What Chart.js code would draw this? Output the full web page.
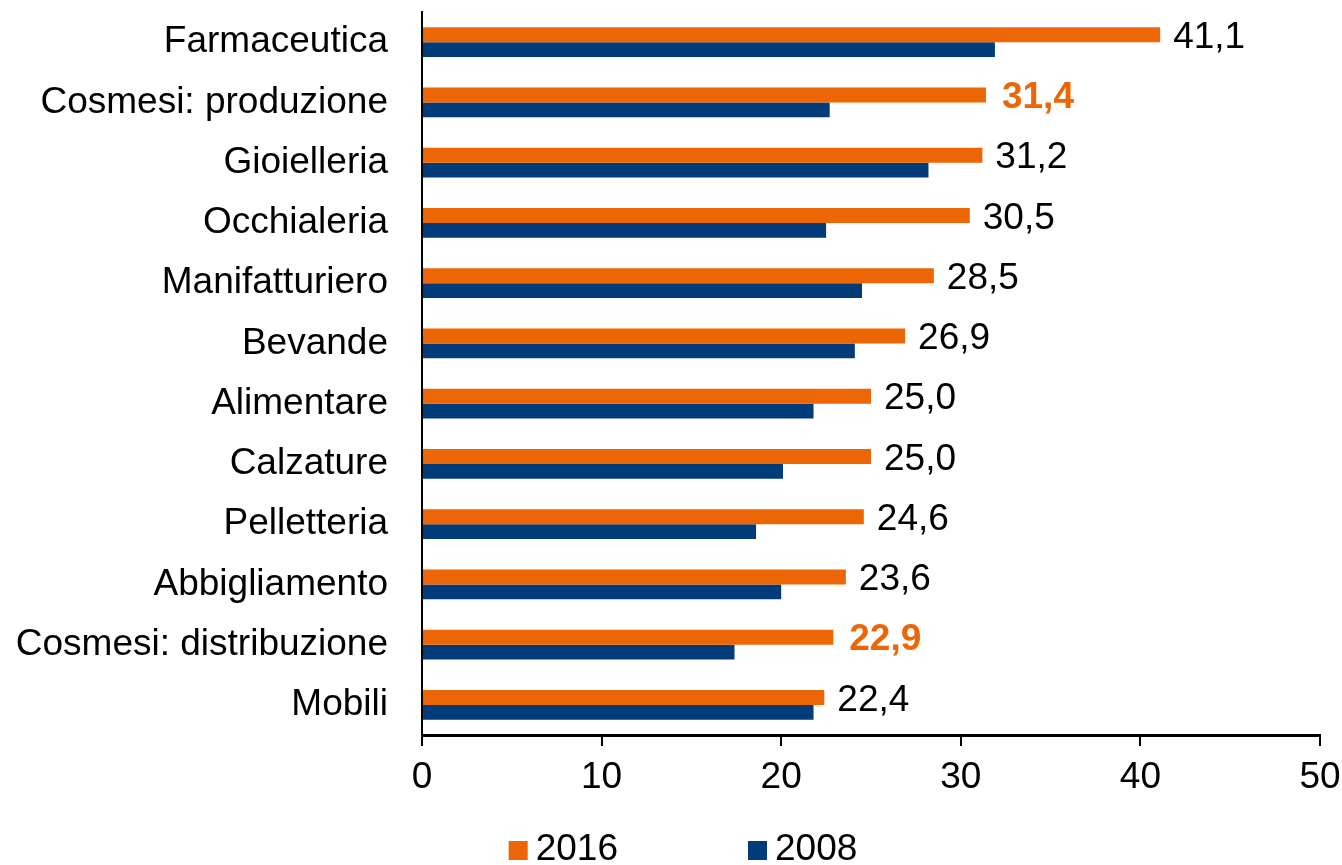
<!DOCTYPE html>
<html>
<head>
<meta charset="utf-8">
<script src="https://cdn.jsdelivr.net/npm/chart.js@4/dist/chart.umd.min.js"></script>
<style>
  body { margin: 0; background: #fff; }
  #wrap { width: 1342px; height: 865px; }
</style>
</head>
<body>
<div id="wrap"><canvas id="graph" width="1342" height="865"></canvas></div>
<script>
const categories = [
  'Farmaceutica', 'Cosmesi: produzione', 'Gioielleria', 'Occhialeria',
  'Manifatturiero', 'Bevande', 'Alimentare', 'Calzature', 'Pelletteria',
  'Abbigliamento', 'Cosmesi: distribuzione', 'Mobili'
];
const values2016 = [41.1, 31.4, 31.2, 30.5, 28.5, 26.9, 25.0, 25.0, 24.6, 23.6, 22.9, 22.4];
const values2008 = [31.9, 22.7, 28.2, 22.5, 24.5, 24.1, 21.8, 20.1, 18.6, 20.0, 17.4, 21.8];
const seriesNames = ['2016', '2008'];
const highlighted = ['Cosmesi: produzione', 'Cosmesi: distribuzione'];
const xTicks = [0, 10, 20, 30, 40, 50];

const ORANGE = '#ED6605';
const BLUE = '#013B7A';
const FONT = '"Liberation Sans", Arial, sans-serif';

Chart.defaults.font.family = FONT;
Chart.defaults.color = '#000';

// etichette valori 2016 a destra delle barre arancioni
const valueLabels = {
  id: 'valueLabels',
  afterDatasetsDraw(chart) {
    const ctx = chart.ctx;
    const meta = chart.getDatasetMeta(0);
    ctx.save();
    ctx.textBaseline = 'middle';
    ctx.textAlign = 'left';
    meta.data.forEach((bar, i) => {
      const hi = highlighted.includes(categories[i]);
      ctx.font = (hi ? 'bold ' : '') + '37px ' + FONT;
      ctx.fillStyle = hi ? ORANGE : '#000';
      const txt = values2016[i].toFixed(1).replace('.', ',');
      ctx.fillText(txt, bar.x + (hi ? 16 : 13), bar.y + 3);
    });
    ctx.restore();
  }
};

// legenda in basso
const bottomLegend = {
  id: 'bottomLegend',
  afterDraw(chart) {
    const ctx = chart.ctx;
    ctx.save();
    ctx.font = '37px ' + FONT;
    ctx.textBaseline = 'alphabetic';
    const box = 19, gap = 8, spacing = 130;
    const items = chart.data.datasets.map(d => ({ label: d.label, color: d.backgroundColor }));
    const widths = items.map(it => box + gap + ctx.measureText(it.label).width);
    const total = widths.reduce((a, b) => a + b, 0) + spacing * (items.length - 1);
    let x = chart.width / 2 + 12 - total / 2;
    const base = 860;
    items.forEach((it, i) => {
      ctx.fillStyle = it.color;
      ctx.fillRect(x, base - box, box, box);
      ctx.fillStyle = '#000';
      ctx.fillText(it.label, x + box + gap, base);
      x += widths[i] + spacing;
    });
    ctx.restore();
  }
};

const ctx = document.getElementById('graph').getContext('2d');
const chart = new Chart(ctx, {
  type: 'bar',
  data: {
    labels: categories,
    datasets: [{
      label: seriesNames[0],
      data: values2016,
      backgroundColor: ORANGE,
      categoryPercentage: 0.49,
      barPercentage: 1.0
    }, {
      label: seriesNames[1],
      data: values2008,
      backgroundColor: BLUE,
      categoryPercentage: 0.49,
      barPercentage: 1.0
    }]
  },
  options: {
    indexAxis: 'y',
    responsive: false,
    animation: false,
    layout: { padding: { top: 12, right: 22, bottom: 0, left: 0 } },
    plugins: {
      legend: { display: false },
      tooltip: { enabled: false }
    },
    scales: {
      x: {
        min: 0,
        max: 50,
        afterBuildTicks: scale => { scale.ticks = xTicks.map(v => ({ value: v })); },
        afterFit: scale => {
          scale.height = 130;
          scale.paddingLeft = 0;
          scale.paddingRight = 0;
        },
        grid: {
          display: true,
          drawOnChartArea: false,
          drawTicks: true,
          tickLength: 11,
          color: '#000',
          lineWidth: 2
        },
        border: { display: true, color: '#000', width: 3 },
        ticks: {
          font: { size: 37 },
          color: '#000',
          padding: 10,
          maxRotation: 0
        }
      },
      y: {
        afterFit: scale => {
          scale.width = 422;
          scale.paddingTop = 0;
          scale.paddingBottom = 0;
        },
        grid: { display: false },
        border: { display: true, color: '#000', width: 2 },
        ticks: {
          font: { size: 37 },
          color: '#000',
          padding: 26,
          autoSkip: false
        }
      }
    }
  },
  plugins: [valueLabels, bottomLegend]
});
</script>
</body>
</html>
